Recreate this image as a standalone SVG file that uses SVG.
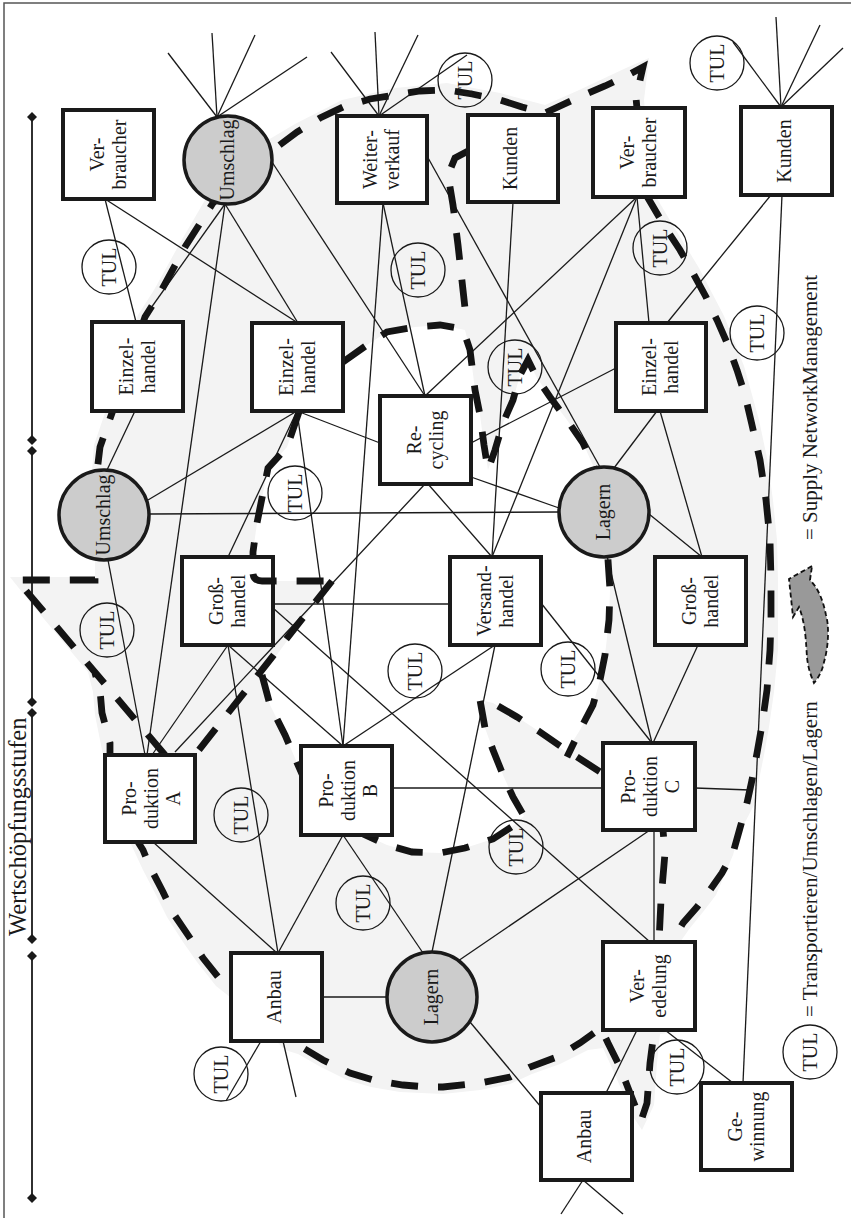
<svg xmlns="http://www.w3.org/2000/svg" width="851" height="1218" viewBox="0 0 851 1218">
<style>
.box{fill:#fff;stroke:#1a1a1a;stroke-width:4}
.hub{fill:#cccccc;stroke:#1a1a1a;stroke-width:3.5}
.tul{fill:none;stroke:#1a1a1a;stroke-width:1.3}
.lbl{font-family:"Liberation Serif",serif;font-size:20px;fill:#1a1a1a;text-anchor:middle}
.leg{font-family:"Liberation Serif",serif;font-size:21px;fill:#1a1a1a}
.conn line{stroke:#1a1a1a;stroke-width:1.3}
.dash{fill:none;stroke:#141414;stroke-width:6.8;stroke-dasharray:27 20}
</style>
<defs>
<path id="dm" d="M0,-5 L5,0 L0,5 L-5,0 Z" fill="#1a1a1a"/>
</defs>
<rect width="851" height="1218" fill="#fff"/>
<g id="frame" stroke="#555" stroke-width="1.5" fill="none">
<path d="M4,1218 L4,3 L851,3"/>
</g>
<g id="regions">
<path fill="#f3f3f3" d="M205,200 L268,140 L295,124 L342,100 L395,88 L447,83 L500,93 L545,105 L577,91 L626,68 L649,58 L644,100 L652,190 L671,222 L699,268 L724,316 L744,366 L759,420 L767,458 L773,500 L777,540 L778,580 L778,650 L774,692 L769,727 L764,755 L754,805 L740,832 L733,855 L716,895 L703,912 L690,928 L678,945 L695,945 L695,1030 L660,1034 L657,1063 L654,1105 L642,1130 L632,1115 L623,1093 L612,1068 L603,1048 L588,1050 L560,1064 L532,1074 L510,1084 L480,1090 L443,1094 L400,1092 L371,1087 L347,1080 L319,1066 L298,1054 L285,1050 L240,1005 L216,986 L197,962 L183,942 L167,917 L156,895 L143,870 L130,842 L103,755 L95,715 L93,692 L88,672 L30,602 L10,577 L95,577 L95,515 L92,472 L94,445 L106,410 L138,315 L154,290 L180,243 Z"/>
<path fill="#fff" d="M299,412 L287,447 L268,468 L263,493 L257,523 L253,552 L253,581 L331,581 L262,675 L270,705 L285,735 L298,765 L320,815 L363,834 L387,845 L412,852 L440,853 L465,848 L493,839 L513,826 L524,816 L513,797 L503,775 L493,750 L485,728 L480,700 L493,703 L517,717 L540,732 L566,752 L580,730 L593,705 L600,680 L605,655 L609,620 L610,590 L608,560 L606,520 L595,470 L583,443 L567,420 L550,397 L537,378 L528,360 L520,375 L513,400 L503,423 L495,450 L488,470 L484,445 L480,415 L475,390 L470,350 L465,330 L440,325 L415,327 L387,332 L367,345 L343,362 L343,411 Z"/>
</g>
<g id="axis">
<g stroke="#1a1a1a" stroke-width="1.8">
<line x1="32" y1="117" x2="32" y2="440"/>
<line x1="32" y1="451" x2="32" y2="702"/>
<line x1="32" y1="713" x2="32" y2="939"/>
<line x1="32" y1="956" x2="32" y2="1198"/>
</g>
<use href="#dm" x="32" y="117"/><use href="#dm" x="32" y="440"/>
<use href="#dm" x="32" y="451"/><use href="#dm" x="32" y="702"/>
<use href="#dm" x="32" y="713"/><use href="#dm" x="32" y="939"/>
<use href="#dm" x="32" y="956"/><use href="#dm" x="32" y="1198"/>
<text transform="translate(26,936) rotate(-90)" font-family="Liberation Serif, serif" font-size="24.5" fill="#1a1a1a">Wertschöpfungsstufen</text>
</g>
<g id="connectors" class="conn">
<line x1="217" y1="117" x2="168" y2="53"/><line x1="217" y1="117" x2="212" y2="33"/>
<line x1="217" y1="117" x2="255" y2="35"/><line x1="217" y1="117" x2="307" y2="57"/>
<line x1="379" y1="116" x2="331" y2="52"/><line x1="379" y1="116" x2="375" y2="32"/>
<line x1="379" y1="116" x2="418" y2="35"/><line x1="379" y1="116" x2="467" y2="55"/>
<line x1="781" y1="107" x2="733" y2="42"/><line x1="781" y1="107" x2="776" y2="17"/>
<line x1="781" y1="107" x2="820" y2="25"/><line x1="781" y1="107" x2="843" y2="48"/>
<line x1="261" y1="1041" x2="226" y2="1101"/><line x1="283" y1="1041" x2="296" y2="1097"/>
<line x1="583" y1="1180" x2="561" y2="1214"/><line x1="583" y1="1180" x2="623" y2="1214"/>
<line x1="105" y1="199" x2="136" y2="322"/>
<line x1="105" y1="199" x2="298" y2="323"/>
<line x1="225" y1="204" x2="141" y2="322"/>
<line x1="225" y1="204" x2="147" y2="755"/>
<line x1="225" y1="204" x2="298" y2="323"/>
<line x1="272" y1="162" x2="425" y2="396"/>
<line x1="383" y1="203" x2="343" y2="746"/>
<line x1="383" y1="203" x2="425" y2="396"/>
<line x1="427" y1="156" x2="600" y2="467"/>
<line x1="513" y1="202" x2="492" y2="557"/>
<line x1="637" y1="197" x2="425" y2="396"/>
<line x1="637" y1="197" x2="492" y2="557"/>
<line x1="637" y1="197" x2="649" y2="323"/>
<line x1="771" y1="195" x2="667" y2="323"/>
<line x1="782" y1="195" x2="743" y2="1083"/>
<line x1="135" y1="411" x2="107" y2="470"/>
<line x1="297" y1="411" x2="148" y2="500"/>
<line x1="297" y1="411" x2="228" y2="557"/>
<line x1="297" y1="411" x2="343" y2="746"/>
<line x1="297" y1="411" x2="380" y2="443"/>
<line x1="149" y1="514" x2="559" y2="512"/>
<line x1="108" y1="560" x2="145" y2="755"/>
<line x1="471" y1="443" x2="616" y2="368"/>
<line x1="471" y1="477" x2="559" y2="508"/>
<line x1="425" y1="484" x2="175" y2="752"/>
<line x1="428" y1="484" x2="492" y2="557"/>
<line x1="614" y1="468" x2="657" y2="411"/>
<line x1="649" y1="514" x2="702" y2="557"/>
<line x1="607" y1="556" x2="652" y2="743"/>
<line x1="660" y1="411" x2="702" y2="557"/>
<line x1="273" y1="604" x2="450" y2="604"/>
<line x1="541" y1="603" x2="652" y2="743"/>
<line x1="495" y1="645" x2="343" y2="746"/>
<line x1="495" y1="645" x2="432" y2="952"/>
<line x1="273" y1="608" x2="650" y2="942"/>
<line x1="228" y1="645" x2="152" y2="755"/>
<line x1="228" y1="645" x2="343" y2="746"/>
<line x1="228" y1="645" x2="278" y2="953"/>
<line x1="153" y1="842" x2="277" y2="953"/>
<line x1="392" y1="788" x2="603" y2="788"/>
<line x1="343" y1="835" x2="278" y2="953"/>
<line x1="343" y1="835" x2="423" y2="953"/>
<line x1="698" y1="645" x2="653" y2="743"/>
<line x1="695" y1="788" x2="750" y2="790"/>
<line x1="654" y1="830" x2="654" y2="942"/>
<line x1="650" y1="830" x2="458" y2="961"/>
<line x1="387" y1="997" x2="322" y2="997"/>
<line x1="470" y1="1022" x2="541" y2="1107"/>
<line x1="637" y1="1030" x2="606" y2="1093"/>
<line x1="665" y1="1030" x2="733" y2="1083"/>
</g>
<g id="networks">
<path class="dash" d="M165,755 L17,580 L95,580 L95,560 L97,472 L100,447 L112,413 L145,317 L160,293 L185,247 L213,203 L273,150 L297,132 L320,118 L343,107 L370,99 L395,95 L420,91 L447,90 L472,94 L500,100 L522,107 L545,113 L577,98 L605,86 L628,75 L643,67 L636,98 L640,140 L648,198 L665,227 L680,250 L693,273 L706,297 L717,320 L728,345 L737,370 L745,395 L752,425 L760,460 L766,500 L770,540 L771,580 L771,620 L770,650 L767,690 L762,725 L757,753 L752,780 L747,803 L740,828 L733,853 L722,873 L710,890 L697,907 L683,923 L670,945"/>
<path class="dash" d="M262,675 L270,705 L285,735 L298,765 L320,815 L363,834 L387,845 L412,852 L440,853 L465,848 L493,839 L513,826 L524,816 L513,797 L503,775 L493,750 L485,728 L480,700 L493,703 L517,717 L540,732 L566,750 L602,773 L640,800 L663,830 L665,853 L661,900 L659,942 L655,1000 L654,1032 L650,1063 L647,1103 L641,1121 L630,1093 L620,1067 L608,1043 L601,1028 L580,1043 L557,1057 L530,1067 L510,1077 L480,1083 L443,1087 L427,1087 L403,1085 L373,1080 L350,1073 L323,1060 L303,1048 L290,1043 L255,1015 L222,982 L203,958 L190,938 L173,913 L163,892 L150,867 L143,850 L138,842 L120,800 L110,755 L110,743 L102,713 L100,690 L95,673"/>
<path class="dash" d="M299,412 L287,447 L268,468 L263,493 L257,523 L253,552 L253,574"/>
<path class="dash" d="M332,581 L195,755"/>
<path class="dash" d="M343,362 L367,345 L387,332 L415,327 L440,325 L463,329 L470,350 L475,390 L480,415 L484,445 L488,470 L495,450 L503,423 L513,400 L520,375 L528,360 L537,378 L550,397 L567,420 L583,443 L595,470 L606,520 L608,560 L610,590 L609,620 L605,655 L600,680 L593,705 L580,730 L567,757"/>
<path class="dash" d="M470,150 L455,158 L448,175 L453,205 L458,245 L463,290 L467,326"/>
</g>
<g id="nodes">
<g id="n-verbraucher1"><rect class="box" x="63" y="110" width="91" height="89"/><text class="lbl" transform="rotate(-90 108.5 154.5)" x="108.5" y="149.5">Ver-<tspan x="108.5" dy="22">braucher</tspan></text></g>
<g id="n-weiterverkauf"><rect class="box" x="337" y="116" width="90" height="87"/><text class="lbl" transform="rotate(-90 382 159.5)" x="382" y="154.5">Weiter-<tspan x="382" dy="22">verkauf</tspan></text></g>
<g id="n-kunden1"><rect class="box" x="468" y="115" width="90" height="87"/><text class="lbl" transform="rotate(-90 513 158.5)" x="513" y="162.5">Kunden</text></g>
<g id="n-verbraucher2"><rect class="box" x="593" y="108" width="92" height="89"/><text class="lbl" transform="rotate(-90 639 152.5)" x="639" y="147.5">Ver-<tspan x="639" dy="22">braucher</tspan></text></g>
<g id="n-kunden2"><rect class="box" x="741" y="107" width="91" height="88"/><text class="lbl" transform="rotate(-90 786.5 151)" x="786.5" y="155">Kunden</text></g>
<g id="n-einzelhandel1"><rect class="box" x="92" y="322" width="91" height="89"/><text class="lbl" transform="rotate(-90 137.5 366.5)" x="137.5" y="361.5">Einzel-<tspan x="137.5" dy="22">handel</tspan></text></g>
<g id="n-einzelhandel2"><rect class="box" x="252" y="323" width="91" height="88"/><text class="lbl" transform="rotate(-90 297.5 367)" x="297.5" y="362">Einzel-<tspan x="297.5" dy="22">handel</tspan></text></g>
<g id="n-recycling"><rect class="box" x="380" y="396" width="91" height="88"/><text class="lbl" transform="rotate(-90 425.5 440)" x="425.5" y="435">Re-<tspan x="425.5" dy="22">cycling</tspan></text></g>
<g id="n-einzelhandel3"><rect class="box" x="616" y="323" width="90" height="88"/><text class="lbl" transform="rotate(-90 661 367)" x="661" y="362">Einzel-<tspan x="661" dy="22">handel</tspan></text></g>
<g id="n-grosshandel1"><rect class="box" x="182" y="557" width="91" height="88"/><text class="lbl" transform="rotate(-90 227.5 601)" x="227.5" y="596">Groß-<tspan x="227.5" dy="22">handel</tspan></text></g>
<g id="n-versandhandel"><rect class="box" x="450" y="557" width="91" height="88"/><text class="lbl" transform="rotate(-90 495.5 601)" x="495.5" y="596">Versand-<tspan x="495.5" dy="22">handel</tspan></text></g>
<g id="n-grosshandel2"><rect class="box" x="655" y="557" width="91" height="88"/><text class="lbl" transform="rotate(-90 700.5 601)" x="700.5" y="596">Groß-<tspan x="700.5" dy="22">handel</tspan></text></g>
<g id="n-produktionA"><rect class="box" x="105" y="755" width="90" height="87"/><text class="lbl" transform="rotate(-90 150 798.5)" x="150" y="784.5">Pro-<tspan x="150" dy="22">duktion</tspan><tspan x="150" dy="22">A</tspan></text></g>
<g id="n-produktionB"><rect class="box" x="301" y="746" width="91" height="89"/><text class="lbl" transform="rotate(-90 346.5 790.5)" x="346.5" y="776.5">Pro-<tspan x="346.5" dy="22">duktion</tspan><tspan x="346.5" dy="22">B</tspan></text></g>
<g id="n-produktionC"><rect class="box" x="603" y="743" width="92" height="87"/><text class="lbl" transform="rotate(-90 649 786.5)" x="649" y="772.5">Pro-<tspan x="649" dy="22">duktion</tspan><tspan x="649" dy="22">C</tspan></text></g>
<g id="n-anbau1"><rect class="box" x="231" y="953" width="91" height="88"/><text class="lbl" transform="rotate(-90 276.5 997)" x="276.5" y="1001">Anbau</text></g>
<g id="n-veredelung"><rect class="box" x="603" y="942" width="92" height="88"/><text class="lbl" transform="rotate(-90 649 986)" x="649" y="981">Ver-<tspan x="649" dy="22">edelung</tspan></text></g>
<g id="n-anbau2"><rect class="box" x="541" y="1093" width="91" height="87"/><text class="lbl" transform="rotate(-90 586.5 1136.5)" x="586.5" y="1140.5">Anbau</text></g>
<g id="n-gewinnung"><rect class="box" x="701" y="1083" width="91" height="87"/><text class="lbl" transform="rotate(-90 746.5 1126.5)" x="746.5" y="1121.5">Ge-<tspan x="746.5" dy="22">winnung</tspan></text></g>
<g id="n-umschlag1"><circle class="hub" cx="228" cy="160" r="44"/><text class="lbl" transform="rotate(-90 228 160)" x="228" y="166">Umschlag</text></g>
<g id="n-umschlag2"><circle class="hub" cx="104" cy="515" r="45"/><text class="lbl" transform="rotate(-90 104 515)" x="104" y="521">Umschlag</text></g>
<g id="n-lagern1"><circle class="hub" cx="604" cy="512" r="45"/><text class="lbl" transform="rotate(-90 604 512)" x="604" y="518">Lagern</text></g>
<g id="n-lagern2"><circle class="hub" cx="432" cy="997" r="45"/><text class="lbl" transform="rotate(-90 432 997)" x="432" y="1003">Lagern</text></g>
</g>
<path class="dash" d="M253,574 Q254,581 262,581 L332,581"/>
<g id="tul">
<g><circle class="tul" cx="109" cy="267" r="27"/><text class="lbl" transform="rotate(-90 109 267)" x="109" y="274">TUL</text></g>
<g><circle class="tul" cx="418" cy="270" r="27"/><text class="lbl" transform="rotate(-90 418 270)" x="418" y="277">TUL</text></g>
<g><circle class="tul" cx="465" cy="80" r="27"/><text class="lbl" transform="rotate(-90 465 80)" x="465" y="87">TUL</text></g>
<g><circle class="tul" cx="717" cy="63" r="27"/><text class="lbl" transform="rotate(-90 717 63)" x="717" y="70">TUL</text></g>
<g><circle class="tul" cx="660" cy="248" r="27"/><text class="lbl" transform="rotate(-90 660 248)" x="660" y="255">TUL</text></g>
<g><circle class="tul" cx="757" cy="333" r="27"/><text class="lbl" transform="rotate(-90 757 333)" x="757" y="340">TUL</text></g>
<g><circle class="tul" cx="515" cy="367" r="27"/><text class="lbl" transform="rotate(-90 515 367)" x="515" y="374">TUL</text></g>
<g><circle class="tul" cx="295" cy="493" r="27"/><text class="lbl" transform="rotate(-90 295 493)" x="295" y="500">TUL</text></g>
<g><circle class="tul" cx="107" cy="630" r="27"/><text class="lbl" transform="rotate(-90 107 630)" x="107" y="637">TUL</text></g>
<g><circle class="tul" cx="415" cy="671" r="27"/><text class="lbl" transform="rotate(-90 415 671)" x="415" y="678">TUL</text></g>
<g><circle class="tul" cx="568" cy="669" r="27"/><text class="lbl" transform="rotate(-90 568 669)" x="568" y="676">TUL</text></g>
<g><circle class="tul" cx="516" cy="847" r="27"/><text class="lbl" transform="rotate(-90 516 847)" x="516" y="854">TUL</text></g>
<g><circle class="tul" cx="241" cy="815" r="27"/><text class="lbl" transform="rotate(-90 241 815)" x="241" y="822">TUL</text></g>
<g><circle class="tul" cx="363" cy="903" r="27"/><text class="lbl" transform="rotate(-90 363 903)" x="363" y="910">TUL</text></g>
<g><circle class="tul" cx="221" cy="1074" r="27"/><text class="lbl" transform="rotate(-90 221 1074)" x="221" y="1081">TUL</text></g>
<g><circle class="tul" cx="677" cy="1067" r="27"/><text class="lbl" transform="rotate(-90 677 1067)" x="677" y="1074">TUL</text></g>
</g>
<g id="legend">
<circle class="tul" cx="810" cy="1052" r="27"/><text class="lbl" transform="rotate(-90 810 1052)" x="810" y="1059">TUL</text>
<text class="leg" transform="translate(817,1017) rotate(-90)">= Transportieren/Umschlagen/Lagern</text>
<path d="M812,566 L789,579 L793,617 L799,607 C806,625 806,645 807,657 C808,668 811,676 814,683 C820,676 823,668 824,662 C829,645 829,625 826,615 C823,600 818,588 810,580 Z" fill="#999" stroke="#111" stroke-width="1.8" stroke-dasharray="5 3"/>
<text class="leg" transform="translate(817,540) rotate(-90)">= Supply NetworkManagement</text>
</g>
</svg>
